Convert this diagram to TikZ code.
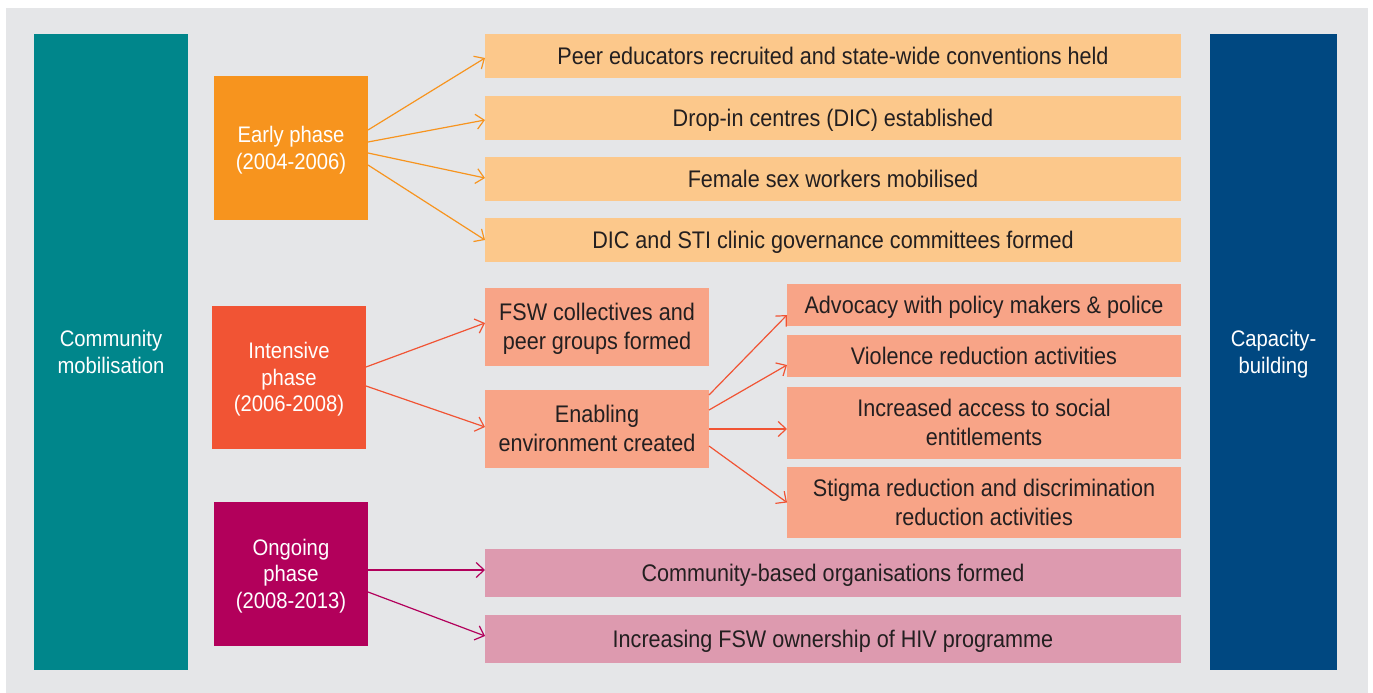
\documentclass[tikz,border=0pt]{standalone}
\usepackage{fontspec}
\setmainfont{Liberation Sans}[FakeStretch=0.9]
\usetikzlibrary{arrows.meta,calc}
\definecolor{bgc}{HTML}{E5E6E8}
\definecolor{tealc}{HTML}{00868B}
\definecolor{bluec}{HTML}{004881}
\definecolor{earlyc}{HTML}{F7941E}
\definecolor{earlyl}{HTML}{FCC88B}
\definecolor{intc}{HTML}{F15434}
\definecolor{intl}{HTML}{F8A487}
\definecolor{ongc}{HTML}{B2005B}
\definecolor{ongl}{HTML}{DD9AAF}
\definecolor{txt}{HTML}{231F20}
\newcommand\boxtxt[1]{\raisebox{-2.5pt}[\height][\depth]{\begin{tabular}{@{}c@{}}#1\end{tabular}}}
\tikzset{
  box/.style={inner sep=0pt, outer sep=0pt},
  dark/.style={box, text=white, font=\fontsize{22.5}{26.5}\selectfont},
  light/.style={box, text=txt, font=\fontsize{24}{29}\selectfont},
  arr/.style={line width=1.2pt, -{Straight Barb[length=8pt,width=15pt,line width=1.2pt]}},
}
\begin{document}
\begin{tikzpicture}[x=1pt,y=-1pt]
\useasboundingbox (0,0) rectangle (1373,693);
\fill[white] (0,0) rectangle (1373,693);
\fill[bgc] (6,8) rectangle (1368,693);
% side columns
\node[dark, fill=tealc, minimum width=154pt, minimum height=636pt] (cm) at (111,352) {\boxtxt{Community\\mobilisation}};
\node[dark, fill=bluec, minimum width=127pt, minimum height=636pt] (cb) at (1273.5,352) {\boxtxt{Capacity-\\building}};
% phases
\node[dark, fill=earlyc, minimum width=154pt, minimum height=144pt] (early) at (291,148) {\boxtxt{Early phase\\(2004-2006)}};
\node[dark, fill=intc, minimum width=154pt, minimum height=143pt] (intens) at (289,377.5) {\boxtxt{Intensive\\phase\\(2006-2008)}};
\node[dark, fill=ongc, minimum width=154pt, minimum height=144pt] (ongo) at (291,574) {\boxtxt{Ongoing\\phase\\(2008-2013)}};
% early outcomes
\node[light, fill=earlyl, minimum width=696pt, minimum height=44pt] (e1) at (833,56) {\boxtxt{Peer educators recruited and state-wide conventions held}};
\node[light, fill=earlyl, minimum width=696pt, minimum height=44pt] (e2) at (833,118) {\boxtxt{Drop-in centres (DIC) established}};
\node[light, fill=earlyl, minimum width=696pt, minimum height=44pt] (e3) at (833,179) {\boxtxt{Female sex workers mobilised}};
\node[light, fill=earlyl, minimum width=696pt, minimum height=44pt] (e4) at (833,240) {\boxtxt{DIC and STI clinic governance committees formed}};
% intensive outcomes
\node[light, fill=intl, minimum width=224pt, minimum height=78pt] (fsw) at (597,327) {\boxtxt{FSW collectives and\\peer groups formed}};
\node[light, fill=intl, minimum width=224pt, minimum height=78pt] (enab) at (597,429) {\boxtxt{Enabling\\environment created}};
\node[light, fill=intl, minimum width=394pt, minimum height=42pt] (a1) at (984,305) {\boxtxt{Advocacy with policy makers \& police}};
\node[light, fill=intl, minimum width=394pt, minimum height=42pt] (a2) at (984,356) {\boxtxt{Violence reduction activities}};
\node[light, fill=intl, minimum width=394pt, minimum height=72pt] (a3) at (984,423) {\boxtxt{Increased access to social\\entitlements}};
\node[light, fill=intl, minimum width=394pt, minimum height=71pt] (a4) at (984,502.5) {\boxtxt{Stigma reduction and discrimination\\reduction activities}};
% ongoing outcomes
\node[light, fill=ongl, minimum width=696pt, minimum height=48pt] (p1) at (833,573) {\boxtxt{Community-based organisations formed}};
\node[light, fill=ongl, minimum width=696pt, minimum height=48pt] (p2) at (833,639) {\boxtxt{Increasing FSW ownership of HIV programme}};
% arrows
\draw[arr, earlyc] ($(early.east)+(0,-18)$) -- ($(e1.west)+(0,2)$);
\draw[arr, earlyc] ($(early.east)+(0,-6)$) -- ($(e2.west)+(0,2)$);
\draw[arr, earlyc] ($(early.east)+(0,5)$) -- ($(e3.west)+(0,-1)$);
\draw[arr, earlyc] ($(early.east)+(0,17)$) -- (e4.west);
\draw[arr, intc] ($(intens.east)+(0,-10.5)$) -- ($(fsw.west)+(0,-4)$);
\draw[arr, intc] ($(intens.east)+(0,8.5)$) -- ($(enab.west)+(0,-2)$);
\draw[arr, intc] ($(enab.east)+(0,-34)$) -- ($(a1.west)+(0,10)$);
\draw[arr, intc] ($(enab.east)+(0,-19)$) -- ($(a2.west)+(0,9)$);
\draw[arr, intc] (enab.east) -- ($(a3.west)+(0,6)$);
\draw[arr, intc] ($(enab.east)+(0,17)$) -- (a4.west);
\draw[arr, ongc] ($(ongo.east)+(0,-4)$) -- ($(p1.west)+(0,-3)$);
\draw[arr, ongc] ($(ongo.east)+(0,18)$) -- ($(p2.west)+(0,-3)$);
\end{tikzpicture}
\end{document}
